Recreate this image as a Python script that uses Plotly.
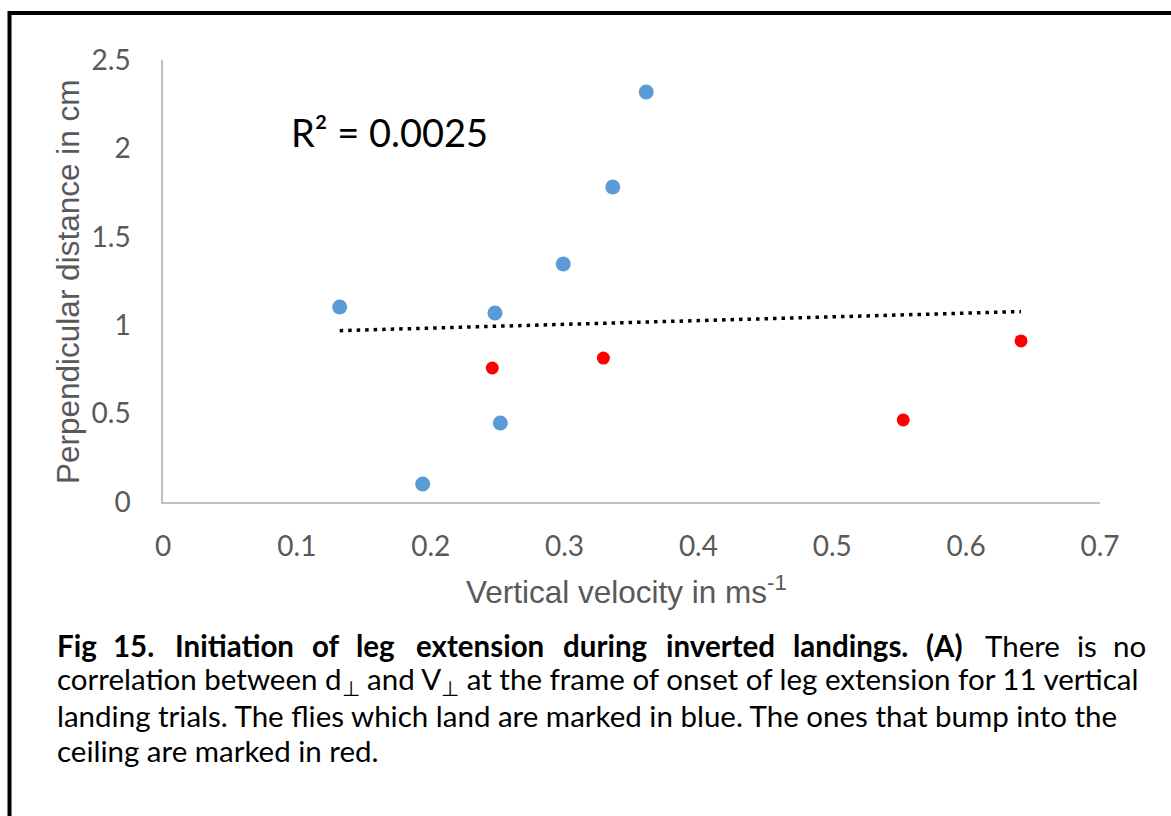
import numpy as np
import plotly.graph_objects as go

# ---- data ----
land_x = [0.132, 0.248, 0.299, 0.336, 0.361, 0.252, 0.194]
land_y = [1.103, 1.069, 1.346, 1.782, 2.319, 0.447, 0.102]
bump_x = [0.246, 0.329, 0.641, 0.553]
bump_y = [0.758, 0.814, 0.911, 0.464]
x_ticks = [0, 0.1, 0.2, 0.3, 0.4, 0.5, 0.6, 0.7]
y_ticks = [0, 0.5, 1, 1.5, 2, 2.5]
r2_text = "R² = 0.0025"
x_title = "Vertical velocity in ms<sup>-1</sup>"
y_title = "Perpendicular distance in cm"

caption_line1 = [("<b>Fig</b>", 55), ("<b>15.</b>", 111), ("<b>Initiation</b>", 173),
                 ("<b>of</b>", 310), ("<b>leg</b>", 354), ("<b>extension</b>", 414),
                 ("<b>during</b>", 561), ("<b>inverted</b>", 664), ("<b>landings.</b>", 791),
                 ("<b>(A)</b>", 924), ("There", 983), ("is", 1075), ("no", 1111)]
caption_rest = [
    "correlation between d<sub>⊥</sub> and V<sub>⊥</sub> at the frame of onset of leg extension for 11 vertical",
    "landing trials. The flies which land are marked in blue. The ones that bump into the",
    "ceiling are marked in red.",
]

W, H = 1171, 816
L, R, T, B = 163, 1100, 60, 502  # plot area pixels


def px(x):
    return (x - L) / (R - L)


def py(y):
    return (B - y) / (B - T)


all_x = np.array(land_x + bump_x)
all_y = np.array(land_y + bump_y)
slope, intercept = np.polyfit(all_x, all_y, 1)
tx = np.array([all_x.min(), all_x.max()])
ty = slope * tx + intercept

fig = go.Figure()
fig.add_trace(go.Scatter(x=tx, y=ty, mode="lines",
                         line=dict(color="black", width=3.5, dash="3.5px,5px"),
                         hoverinfo="skip", showlegend=False))
fig.add_trace(go.Scatter(x=land_x, y=land_y, mode="markers",
                         marker=dict(color="#5B9BD5", size=15, line=dict(width=0)),
                         showlegend=False))
fig.add_trace(go.Scatter(x=bump_x, y=bump_y, mode="markers",
                         marker=dict(color="#FF0000", size=13, line=dict(width=0)),
                         showlegend=False))

tick_font = dict(family="Lato, sans-serif", size=28, color="#595959")
title_font = dict(family="Liberation Sans, Arial, sans-serif", size=31.5, color="#595959")

fig.update_layout(
    width=W, height=H,
    margin=dict(l=L, r=W - R, t=T, b=H - B),
    paper_bgcolor="white", plot_bgcolor="white",
    showlegend=False,
    xaxis=dict(range=[0, 0.7], tickvals=x_ticks, ticktext=[f"{v:g}" for v in x_ticks],
               showgrid=False, zeroline=False, showline=True, linecolor="#BFBFBF",
               linewidth=1.5, ticks="", tickfont=tick_font, ticklabelstandoff=19),
    yaxis=dict(range=[0, 2.5], tickvals=y_ticks, ticktext=[f"{v:g}" for v in y_ticks],
               showgrid=False, zeroline=False, showline=True, linecolor="#BFBFBF",
               linewidth=1.5, ticks="", tickfont=tick_font, ticklabelstandoff=25),
)

annotations = [
    dict(text=r2_text, x=px(289), y=py(132), xref="paper", yref="paper",
         xanchor="left", yanchor="middle", showarrow=False,
         font=dict(family="Lato, sans-serif", size=38, color="black")),
    dict(text=x_title, x=px(626), y=py(590), xref="paper", yref="paper",
         xanchor="center", yanchor="middle", showarrow=False, font=title_font),
    dict(text=y_title, x=px(68), y=py(282), xref="paper", yref="paper",
         xanchor="center", yanchor="middle", textangle=-90, showarrow=False, font=title_font),
]
cap_font = dict(family="Lato, sans-serif", size=29.5, color="black")
for word, xpos in caption_line1:
    annotations.append(dict(text=word, x=px(xpos), y=py(645), xref="paper", yref="paper",
                            xanchor="left", yanchor="middle", showarrow=False, font=cap_font))
for i, line in enumerate(caption_rest):
    annotations.append(dict(text=line, x=px(55), y=py(680 + 35 * i), xref="paper", yref="paper",
                            xanchor="left", yanchor="middle", showarrow=False, font=cap_font))
fig.update_layout(annotations=annotations)

fig.update_layout(shapes=[
    dict(type="line", xref="paper", yref="paper", x0=px(9.5), x1=px(1171), y0=py(13), y1=py(13),
         line=dict(color="black", width=4)),
    dict(type="line", xref="paper", yref="paper", x0=px(9.5), x1=px(9.5), y0=py(11), y1=py(816),
         line=dict(color="black", width=4)),
])

fig.write_html("out.html")
